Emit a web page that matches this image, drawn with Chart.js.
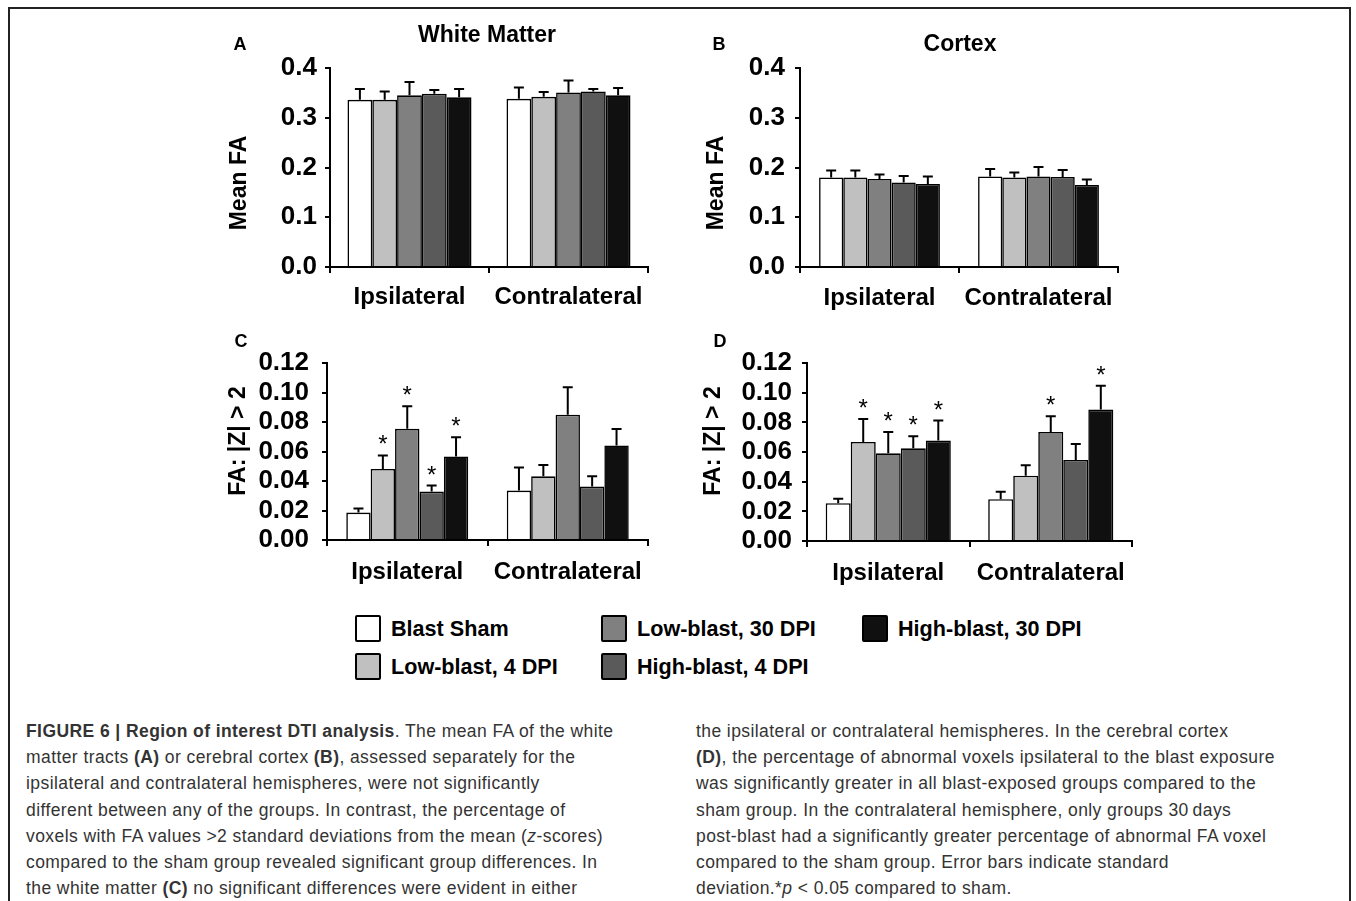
<!DOCTYPE html>
<html>
<head>
<meta charset="utf-8">
<script src="https://cdn.jsdelivr.net/npm/chart.js@4.4.1/dist/chart.umd.min.js"></script>
<style>
  body { margin: 0; background: #fff; width: 1356px; height: 901px; position: relative; overflow: hidden;
         font-family: "Liberation Sans", Arial, sans-serif; }
  .frame { position: absolute; left: 8px; top: 7px; width: 1339px; height: 1000px;
           border: 2px solid #222; border-bottom: none; }
  canvas { position: absolute; }
  .legend-item { position: absolute; display: flex; align-items: center; height: 27px;
                 font-weight: bold; font-size: 21.6px; color: #000; white-space: nowrap; }
  .swatch { width: 22px; height: 23px; border: 2px solid #000; border-radius: 2px; margin-right: 10px; }
  .caption { position: absolute; top: 718px; font-size: 17.5px; letter-spacing: 0.42px; line-height: 26.2px;
             color: #333; white-space: nowrap; }
</style>
</head>
<body>
<div class="frame"></div>
<canvas id="panelA"></canvas>
<canvas id="panelB"></canvas>
<canvas id="panelC"></canvas>
<canvas id="panelD"></canvas>
<div id="legend"></div>

<div class="caption" style="left:26px">
  <div><b>FIGURE 6 | Region of interest DTI analysis</b>. The mean FA of the white</div>
  <div>matter tracts <b>(A)</b> or cerebral cortex <b>(B)</b>, assessed separately for the</div>
  <div>ipsilateral and contralateral hemispheres, were not significantly</div>
  <div>different between any of the groups. In contrast, the percentage of</div>
  <div>voxels with FA values &gt;2 standard deviations from the mean (<i>z</i>-scores)</div>
  <div>compared to the sham group revealed significant group differences. In</div>
  <div>the white matter <b>(C)</b> no significant differences were evident in either</div>
</div>
<div class="caption" style="left:696px">
  <div>the ipsilateral or contralateral hemispheres. In the cerebral cortex</div>
  <div><b>(D)</b>, the percentage of abnormal voxels ipsilateral to the blast exposure</div>
  <div>was significantly greater in all blast-exposed groups compared to the</div>
  <div>sham group. In the contralateral hemisphere, only groups 30&#8201;days</div>
  <div>post-blast had a significantly greater percentage of abnormal FA voxel</div>
  <div>compared to the sham group. Error bars indicate standard</div>
  <div>deviation.*<i>p</i> &lt; 0.05 compared to sham.</div>
</div>

<script>
// categories and groups
const categories = ['Ipsilateral', 'Contralateral'];
const groups = ['Blast Sham', 'Low-blast, 4 DPI', 'Low-blast, 30 DPI', 'High-blast, 4 DPI', 'High-blast, 30 DPI'];
const groupColors = ['#ffffff', '#c0c0c0', '#808080', '#5a5a5a', '#101010'];

// A: white matter mean FA, one row per group: [ipsi, contra]
const wmMeanFA    = [[0.336, 0.338], [0.336, 0.342], [0.345, 0.351], [0.348, 0.353], [0.341, 0.345]];
const wmMeanFAErr = [[0.022, 0.023], [0.017, 0.010], [0.027, 0.024], [0.008, 0.005], [0.017, 0.015]];

// B: cortex mean FA
const cxMeanFA    = [[0.180, 0.182], [0.180, 0.180], [0.177, 0.182], [0.170, 0.181], [0.167, 0.165]];
const cxMeanFAErr = [[0.014, 0.015], [0.014, 0.010], [0.009, 0.019], [0.013, 0.014], [0.015, 0.011]];

// C: white matter fraction of voxels with |Z| > 2
const wmAbnormal    = [[0.0186, 0.0335], [0.0482, 0.0432], [0.0754, 0.0849], [0.0328, 0.0362], [0.0566, 0.0641]];
const wmAbnormalErr = [[0.0027, 0.0156], [0.0091, 0.0077], [0.0152, 0.0186], [0.0041, 0.0070], [0.0131, 0.0111]];
const wmStars       = [[0, 0], [1, 0], [1, 0], [1, 0], [1, 0]];

// D: cortex fraction of voxels with |Z| > 2
const cxAbnormal    = [[0.0255, 0.0282], [0.0668, 0.0440], [0.0591, 0.0735], [0.0625, 0.0546], [0.0677, 0.0886]];
const cxAbnormalErr = [[0.0029, 0.0050], [0.0155, 0.0070], [0.0144, 0.0106], [0.0081, 0.0108], [0.0135, 0.0161]];
const cxStars       = [[0, 0], [1, 0], [1, 1], [1, 0], [1, 1]];

const FONT = '"Liberation Sans", Arial, sans-serif';

const panels = [
  { id: 'panelA', box: { x: 200, y: 10, w: 470, h: 300 }, area: { l: 330, t: 68, r: 648, b: 267 },
    values: wmMeanFA, errors: wmMeanFAErr, stars: null, max: 0.4, step: 0.1, dec: 1, catPct: 0.78,
    letter: ['A', 240, 45], title: ['White Matter', 487, 36], yTitle: ['Mean FA', 240, 183], yPad: 8, xPad: 10 },
  { id: 'panelB', box: { x: 670, y: 10, w: 470, h: 300 }, area: { l: 800, t: 68, r: 1118, b: 267 },
    values: cxMeanFA, errors: cxMeanFAErr, stars: null, max: 0.4, step: 0.1, dec: 1, catPct: 0.76,
    letter: ['B', 719, 45], title: ['Cortex', 960, 45], yTitle: ['Mean FA', 717, 183], yPad: 10, xPad: 11 },
  { id: 'panelC', box: { x: 200, y: 310, w: 470, h: 285 }, area: { l: 327, t: 363, r: 648, b: 540 },
    values: wmAbnormal, errors: wmAbnormalErr, stars: wmStars, max: 0.12, step: 0.02, dec: 2, catPct: 0.76,
    letter: ['C', 241, 342], title: null, yTitle: ['FA: |Z| > 2', 239, 441], yPad: 13, xPad: 12 },
  { id: 'panelD', box: { x: 670, y: 310, w: 480, h: 285 }, area: { l: 807, t: 363, r: 1132, b: 541 },
    values: cxAbnormal, errors: cxAbnormalErr, stars: cxStars, max: 0.12, step: 0.02, dec: 2, catPct: 0.77,
    letter: ['D', 720, 342], title: null, yTitle: ['FA: |Z| > 2', 714, 441], yPad: 10, xPad: 12 }
];

// error bars, significance stars and the panel texts
const panelExtras = {
  id: 'panelExtras',
  afterDatasetsDraw(chart, args, opts) {
    const p = opts.panel;
    const ctx = chart.ctx;
    const yScale = chart.scales.y;
    ctx.save();
    ctx.strokeStyle = '#000';
    ctx.lineWidth = 2;
    chart.data.datasets.forEach((ds, i) => {
      chart.getDatasetMeta(i).data.forEach((bar, j) => {
        const top = yScale.getPixelForValue(ds.data[j] + p.errors[i][j]);
        ctx.beginPath();
        ctx.moveTo(bar.x, bar.y);
        ctx.lineTo(bar.x, top);
        ctx.moveTo(bar.x - 5, top);
        ctx.lineTo(bar.x + 5, top);
        ctx.stroke();
        if (p.stars && p.stars[i][j]) {
          ctx.fillStyle = '#000';
          ctx.font = '24px ' + FONT;
          ctx.textAlign = 'center';
          ctx.textBaseline = 'alphabetic';
          ctx.fillText('*', bar.x, top - 3);
        }
      });
    });
    ctx.restore();
  },
  afterDraw(chart, args, opts) {
    const p = opts.panel;
    const ctx = chart.ctx;
    const ox = p.box.x, oy = p.box.y;
    ctx.save();
    ctx.fillStyle = '#000';
    ctx.textAlign = 'center';
    ctx.textBaseline = 'middle';
    ctx.font = 'bold 18px ' + FONT;
    ctx.fillText(p.letter[0], p.letter[1] - ox, p.letter[2] - oy);
    if (p.title) {
      ctx.font = 'bold 23px ' + FONT;
      ctx.fillText(p.title[0], p.title[1] - ox, p.title[2] - oy);
    }
    ctx.translate(p.yTitle[1] - ox, p.yTitle[2] - oy);
    ctx.rotate(-Math.PI / 2);
    ctx.font = 'bold 23px ' + FONT;
    ctx.fillText(p.yTitle[0], 0, 0);
    ctx.restore();
  }
};

panels.forEach(p => {
  const canvas = document.getElementById(p.id);
  canvas.width = p.box.w;
  canvas.height = p.box.h;
  canvas.style.left = p.box.x + 'px';
  canvas.style.top = p.box.y + 'px';

  const yWidth = p.area.l - p.box.x;
  const xHeight = p.box.y + p.box.h - p.area.b;

  new Chart(canvas.getContext('2d'), {
    type: 'bar',
    data: {
      labels: categories,
      datasets: groups.map((g, i) => ({
        label: g,
        data: p.values[i],
        backgroundColor: groupColors[i],
        borderColor: '#000',
        borderWidth: 1.6,
        categoryPercentage: p.catPct,
        barPercentage: 1.0
      }))
    },
    options: {
      responsive: false,
      animation: false,
      devicePixelRatio: 1,
      layout: { padding: { left: 0, top: p.area.t - p.box.y, right: p.box.x + p.box.w - p.area.r, bottom: 0 } },
      plugins: {
        legend: { display: false },
        tooltip: { enabled: false },
        panelExtras: { panel: p }
      },
      scales: {
        x: {
          offset: true,
          grid: { offset: true, drawOnChartArea: false, drawTicks: true, tickLength: 6, color: '#000', lineWidth: 2 },
          border: { display: true, color: '#000', width: 2 },
          ticks: { color: '#000', font: { family: FONT, size: 24, weight: 'bold' }, padding: p.xPad,
                   maxRotation: 0, autoSkip: false },
          afterFit: s => { s.height = xHeight; }
        },
        y: {
          min: 0,
          max: p.max,
          grid: { drawOnChartArea: false, drawTicks: true, tickLength: 5, color: '#000', lineWidth: 2 },
          border: { display: true, color: '#000', width: 2 },
          ticks: { stepSize: p.step, color: '#000', padding: p.yPad, autoSkip: false,
                   font: { family: FONT, size: 26, weight: 'bold' },
                   callback: v => Number(v).toFixed(p.dec) },
          afterFit: s => { s.width = yWidth; }
        }
      }
    },
    plugins: [panelExtras]
  });
});

// shared legend built from the group names and colours
const legendSpots = [[355, 615], [355, 653], [601, 615], [601, 653], [862, 615]];
const legend = document.getElementById('legend');
groups.forEach((g, i) => {
  const item = document.createElement('div');
  item.className = 'legend-item';
  item.style.left = legendSpots[i][0] + 'px';
  item.style.top = legendSpots[i][1] + 'px';
  item.innerHTML = `<span class="swatch" style="background:${groupColors[i]}"></span>${g}`;
  legend.appendChild(item);
});
</script>
</body>
</html>
